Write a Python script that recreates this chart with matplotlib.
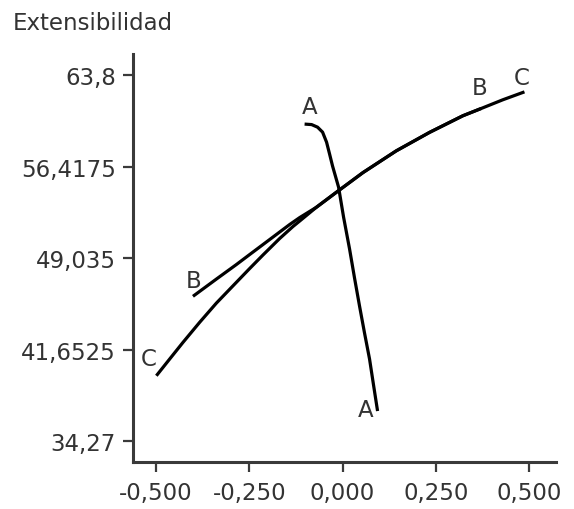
import numpy as np
import matplotlib.pyplot as plt

plt.rcParams['font.family'] = ['DejaVu Sans']

# curva A
ax_A = [-0.1018, -0.0830, -0.0670, -0.0536, -0.0429, -0.0348, -0.0268, -0.0107,
        0.0027, 0.0188, 0.0321, 0.0455, 0.0589, 0.0723, 0.0830, 0.0938]
ay_A = [59.85, 59.81, 59.60, 59.20, 58.39, 57.43, 56.46, 54.76,
        52.34, 49.76, 47.42, 45.16, 42.98, 40.89, 38.79, 36.69]
# curva B
bx_B = [-0.4010, -0.3383, -0.2848, -0.2491, -0.1955, -0.1420, -0.1152, -0.0705,
        -0.0169, 0.0544, 0.1439, 0.2331, 0.3223, 0.3716]
by_B = [45.95, 47.34, 48.51, 49.32, 50.53, 51.74, 52.30, 53.13,
        54.34, 55.93, 57.69, 59.18, 60.52, 61.11]
# curva C
cx_C = [-0.4991, -0.4634, -0.4278, -0.3831, -0.3383, -0.2939, -0.2491, -0.2135,
        -0.1688, -0.1331, -0.1152, -0.0705, -0.0169, 0.0544, 0.1439, 0.2331,
        0.3223, 0.3716, 0.4294, 0.4875]
cy_C = [39.54, 40.89, 42.23, 43.85, 45.40, 46.79, 48.19, 49.28,
        50.61, 51.58, 52.02, 53.13, 54.34, 55.93, 57.69, 59.18,
        60.52, 61.11, 61.81, 62.45]

xticks = [-0.5, -0.25, 0.0, 0.25, 0.5]
xlabels = ['-0,500', '-0,250', '0,000', '0,250', '0,500']
yticks = [34.27, 41.6525, 49.035, 56.4175, 63.8]
ylabels = ['34,27', '41,6525', '49,035', '56,4175', '63,8']

fig = plt.figure(figsize=(5.74, 5.10), dpi=100)
ax = fig.add_axes([0.2312, 0.0922, 0.7374, 0.7998])

lw = 2.3
for xs, ys in [(ax_A, ay_A), (bx_B, by_B), (cx_C, cy_C)]:
    ax.plot(xs, ys, color='black', lw=lw, solid_capstyle='butt',
            solid_joinstyle='round')

fs = 16.5
tc = '#333333'
ax.text(-0.088, 61.3, 'A', fontsize=fs, color=tc, ha='center', va='center')
ax.text(0.062, 36.85, 'A', fontsize=fs, color=tc, ha='center', va='center')
ax.text(-0.40, 47.26, 'B', fontsize=fs, color=tc, ha='center', va='center')
ax.text(0.367, 62.83, 'B', fontsize=fs, color=tc, ha='center', va='center')
ax.text(-0.52, 40.9, 'C', fontsize=fs, color=tc, ha='center', va='center')
ax.text(0.48, 63.6, 'C', fontsize=fs, color=tc, ha='center', va='center')

ax.set_xlim(-0.5625, 0.572)
ax.set_ylim(32.58, 65.5)
ax.set_xticks(xticks)
ax.set_xticklabels(xlabels)
ax.set_yticks(yticks)
ax.set_yticklabels(ylabels)

for s in ['top', 'right']:
    ax.spines[s].set_visible(False)
for s in ['left', 'bottom']:
    ax.spines[s].set_color('#3a3a3a')
    ax.spines[s].set_linewidth(2.2)
ax.tick_params(axis='both', direction='out', length=7, width=1.6,
               color='#3a3a3a', labelsize=fs, labelcolor=tc)
ax.tick_params(axis='x', pad=7)
ax.tick_params(axis='y', pad=5)

fig.text(13 / 574, 1 - 30 / 510, 'Extensibilidad', fontsize=fs, color=tc,
         ha='left', va='baseline')

fig.savefig('out.png', dpi=100)
